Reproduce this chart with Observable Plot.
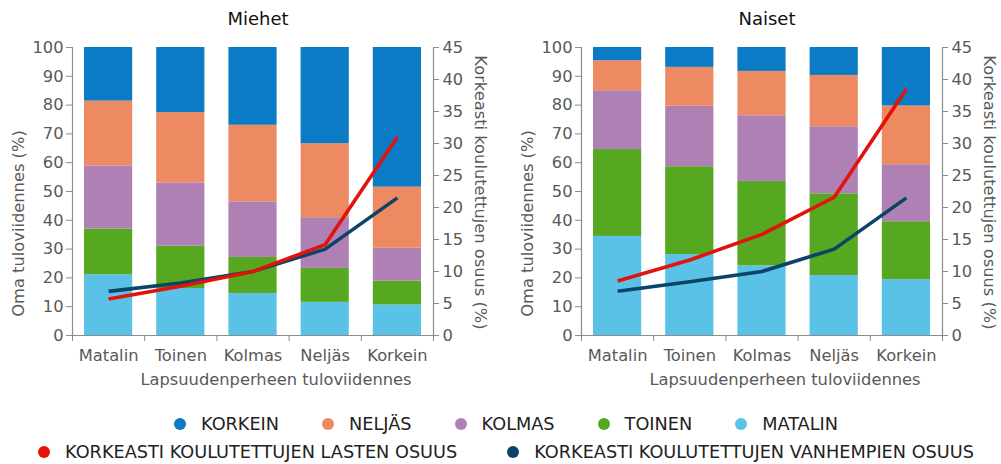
<!DOCTYPE html>
<html>
<head>
<meta charset="utf-8">
<script src="https://cdn.jsdelivr.net/npm/d3@7"></script>
<script src="https://cdn.jsdelivr.net/npm/@observablehq/plot@0.6"></script>
<style>
  html, body { margin: 0; padding: 0; background: #fff; overflow: hidden; }
  #wrap { position: relative; width: 1001px; height: 464px; font-family: "DejaVu Sans", sans-serif; }
  .panel { position: absolute; top: 0; }
  .legend-row { position: absolute; left: 11px; width: 990px; display: flex; justify-content: center; align-items: center; font-size: 17.7px; color: #222; white-space: nowrap; }
  #legend1 { gap: 43px; }
  #legend2 { gap: 50px; }
  .item { display: flex; align-items: center; gap: 15px; }
  .dot { width: 12px; height: 12px; border-radius: 50%; display: inline-block; }
</style>
</head>
<body>
<div id="wrap">
  <div class="panel" id="left" style="left:0px"></div>
  <div class="panel" id="right" style="left:509px"></div>
  <div class="legend-row" id="legend1" style="top:414px"></div>
  <div class="legend-row" id="legend2" style="top:442px"></div>
</div>
<script>
// Categories (childhood family income quintile) and own income quintile segments
const categories = ["Matalin", "Toinen", "Kolmas", "Neljäs", "Korkein"];
const segments = ["Matalin", "Toinen", "Kolmas", "Neljäs", "Korkein"];
const segmentLabels = ["KORKEIN", "NELJÄS", "KOLMAS", "TOINEN", "MATALIN"];
const segmentColors = ["#5bc2e7", "#55a820", "#ae80b3", "#ee8a62", "#0a7bc4"];

// Miehet: share (%) in own income quintile, per childhood quintile
const miehetMatalin = [21.1, 16.3, 14.6, 11.5, 10.6];
const miehetToinen  = [15.9, 14.7, 12.5, 11.8, 8.3];
const miehetKolmas  = [21.9, 22.0, 19.3, 17.6, 11.4];
const miehetNeljas  = [22.5, 24.4, 26.6, 25.7, 21.2];
const miehetKorkein = [18.6, 22.6, 27.0, 33.4, 48.5];

// Naiset
const naisetMatalin = [34.4, 28.1, 24.2, 20.8, 19.4];
const naisetToinen  = [30.2, 30.5, 29.3, 28.4, 20.1];
const naisetKolmas  = [20.4, 21.0, 22.8, 23.3, 19.8];
const naisetNeljas  = [10.4, 13.5, 15.4, 17.8, 20.4];
const naisetKorkein = [4.6, 6.9, 8.3, 9.7, 20.3];

// Lines: share of highly educated (%), right axis 0–45
const miehetLapset = [5.7, 7.7, 10.0, 14.2, 31.0];
const miehetVanhemmat = [6.9, 8.2, 10.0, 13.5, 21.5];
const naisetLapset = [8.5, 11.8, 15.8, 21.6, 38.5];
const naisetVanhemmat = [6.9, 8.4, 10.0, 13.5, 21.5];

const leftTicks = [0, 10, 20, 30, 40, 50, 60, 70, 80, 90, 100];
const rightTicks = [0, 5, 10, 15, 20, 25, 30, 35, 40, 45];
const rightMax = 45;

const lineLabels = ["KORKEASTI KOULUTETTUJEN LASTEN OSUUS", "KORKEASTI KOULUTETTUJEN VANHEMPIEN OSUUS"];
const lineColors = ["#e3120b", "#0b4468"];

function buildBars(series) {
  const rows = [];
  series.forEach((vals, s) => {
    vals.forEach((v, i) => rows.push({i, category: categories[i], segment: segments[s], value: v}));
  });
  return rows;
}

function chart(title, series, children, parents) {
  const bars = buildBars(series);
  const kids = children.map((v, i) => ({i, v}));
  const pars = parents.map((v, i) => ({i, v}));
  const axisGray = "#8c8c8c";
  return Plot.plot({
    width: 492,
    height: 400,
    marginTop: 47,
    marginBottom: 65,
    marginLeft: 72,
    marginRight: 59,
    style: {fontFamily: "DejaVu Sans, sans-serif", fontSize: "16.3px", color: "#595959", background: "white", overflow: "visible"},
    x: {domain: [0, categories.length], label: null},
    y: {domain: [0, 100], label: null},
    color: {domain: segments, range: segmentColors},
    marks: [
      Plot.rectY(bars, Plot.stackY({x: "i", interval: 1, y: "value", fill: "segment", insetLeft: 12, insetRight: 12})),
      Plot.ruleX([0, categories.length], {stroke: axisGray, strokeWidth: 1.2}),
      Plot.ruleY([0], {stroke: axisGray, strokeWidth: 1.2}),
      Plot.axisY({anchor: "left", ticks: leftTicks, tickSize: 6, tickPadding: 3, stroke: axisGray, label: null}),
      Plot.axisY({anchor: "right", ticks: rightTicks.map(t => t * 100 / rightMax), tickFormat: d => String(Math.round(d * rightMax / 100)), tickSize: 5, tickPadding: 4, stroke: axisGray, label: null}),
      Plot.axisX({ticks: d3.range(categories.length + 1), tickSize: 6, tickFormat: () => "", stroke: axisGray, label: null}),
      Plot.axisX({ticks: categories.map((c, i) => i + 0.5), tickSize: 0, tickPadding: 14, tickFormat: d => categories[Math.floor(d)], label: null}),
      Plot.line(pars, {x: d => d.i + 0.5, y: d => d.v * 100 / rightMax, stroke: lineColors[1], strokeWidth: 3.6, strokeLinecap: "butt"}),
      Plot.line(kids, {x: d => d.i + 0.5, y: d => d.v * 100 / rightMax, stroke: lineColors[0], strokeWidth: 3.6, strokeLinecap: "butt"}),
      Plot.text([title], {frameAnchor: "top", dy: -35, dx: 5, lineAnchor: "top", fontSize: 18, fill: "#111"}),
      Plot.text(["Oma tuloviidennes (%)"], {frameAnchor: "left", textAnchor: "middle", rotate: -90, dx: -54, dy: 32, fill: "#595959"}),
      Plot.text(["Korkeasti koulutettujen osuus (%)"], {frameAnchor: "right", textAnchor: "middle", rotate: 90, dx: 47, dy: 1, fill: "#595959"}),
      Plot.text(["Lapsuudenperheen tuloviidennes"], {frameAnchor: "bottom", dy: 38, dx: 23, lineAnchor: "top", fill: "#595959"})
    ]
  });
}

document.getElementById("left").appendChild(
  chart("Miehet", [miehetMatalin, miehetToinen, miehetKolmas, miehetNeljas, miehetKorkein], miehetLapset, miehetVanhemmat));
document.getElementById("right").appendChild(
  chart("Naiset", [naisetMatalin, naisetToinen, naisetKolmas, naisetNeljas, naisetKorkein], naisetLapset, naisetVanhemmat));

function legendItem(label, color) {
  const it = document.createElement("div");
  it.className = "item";
  const dot = document.createElement("span");
  dot.className = "dot";
  dot.style.background = color;
  const t = document.createElement("span");
  t.textContent = label;
  it.appendChild(dot);
  it.appendChild(t);
  return it;
}
const l1 = document.getElementById("legend1");
segmentLabels.forEach((lab, k) => l1.appendChild(legendItem(lab, segmentColors[segmentColors.length - 1 - k])));
const l2 = document.getElementById("legend2");
lineLabels.forEach((lab, k) => l2.appendChild(legendItem(lab, lineColors[k])));
</script>
</body>
</html>
